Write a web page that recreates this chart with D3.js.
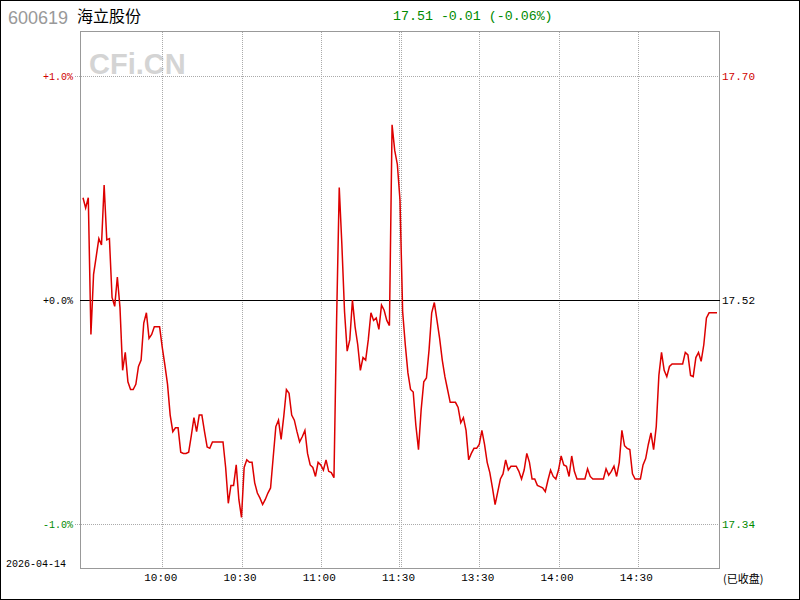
<!DOCTYPE html>
<html><head><meta charset="utf-8">
<script src="https://cdn.jsdelivr.net/npm/d3@7"></script>
<style>body{margin:0;background:#fff}svg{display:block}</style>
</head><body>
<svg id="c" width="800" height="600"></svg>
<script>
const stockCode = "600619";
const stockName = "海立股份";
const headerText = "17.51 -0.01 (-0.06%)";
const dateLabel = "2026-04-14";
const statusLabel = "(已收盘)";
const prevClose = 17.52;
const timeTickIndex = [30, 60, 90, 120, 150, 180, 210];
const timeTickLabels = ["10:00", "10:30", "11:00", "11:30", "13:30", "14:00", "14:30"];
const pctTicks = [1.0, 0.0, -1.0];
const pctLabels = ["+1.0%", "+0.0%", "-1.0%"];
const priceLabels = ["17.70", "17.52", "17.34"];
const tickColors = ["#d00000", "#000000", "#008a00"];
// minute prices 9:30-11:30, 13:01-15:00
const prices = [
17.600,17.592,17.600,17.493,17.540,17.554,17.568,17.563,17.610,17.567,
17.568,17.522,17.515,17.538,17.514,17.465,17.479,17.456,17.450,17.450,
17.454,17.468,17.473,17.502,17.510,17.490,17.493,17.499,17.499,17.499,
17.483,17.469,17.454,17.430,17.417,17.420,17.420,17.401,17.400,17.400,
17.401,17.414,17.428,17.417,17.430,17.430,17.417,17.405,17.404,17.409,
17.409,17.409,17.409,17.409,17.389,17.361,17.375,17.375,17.391,17.364,
17.350,17.389,17.395,17.393,17.393,17.377,17.369,17.365,17.360,17.364,
17.369,17.373,17.397,17.421,17.426,17.411,17.429,17.450,17.447,17.430,
17.426,17.417,17.409,17.413,17.418,17.400,17.391,17.389,17.382,17.393,
17.391,17.387,17.395,17.386,17.385,17.381,17.504,17.608,17.563,17.511,
17.480,17.489,17.520,17.499,17.485,17.465,17.475,17.473,17.489,17.510,
17.504,17.506,17.497,17.516,17.512,17.504,17.500,17.657,17.637,17.626,
17.598,17.511,17.485,17.463,17.450,17.448,17.422,17.403,17.434,17.456,
17.459,17.481,17.510,17.518,17.504,17.490,17.473,17.460,17.450,17.440,
17.440,17.440,17.436,17.424,17.428,17.418,17.395,17.400,17.404,17.404,
17.407,17.418,17.407,17.393,17.385,17.373,17.360,17.370,17.380,17.384,
17.395,17.387,17.390,17.390,17.390,17.386,17.380,17.387,17.400,17.393,
17.380,17.380,17.375,17.374,17.373,17.370,17.379,17.387,17.382,17.380,
17.387,17.398,17.391,17.390,17.382,17.398,17.386,17.380,17.380,17.380,
17.380,17.388,17.382,17.380,17.380,17.380,17.380,17.380,17.388,17.383,
17.386,17.390,17.382,17.393,17.418,17.406,17.404,17.403,17.384,17.380,
17.380,17.380,17.391,17.396,17.407,17.416,17.403,17.421,17.461,17.479,
17.465,17.460,17.468,17.470,17.470,17.470,17.470,17.470,17.479,17.477,
17.461,17.460,17.475,17.479,17.472,17.485,17.506,17.510,17.510,17.510,
17.510
];

const svg = d3.select("#c");
const mono = "'Liberation Mono','DejaVu Sans Mono',monospace";

const x = d3.scaleLinear().domain([0, 240]).range([83, 717]);
const yPct = d3.scaleLinear().domain([-1, 1]).range([524, 76]);
const yPrice = d3.scaleLinear().domain([prevClose * 0.99, prevClose * 1.01]).range([524, 76]);

// outer border
svg.append("rect").attr("x", 0.5).attr("y", 0.5).attr("width", 799).attr("height", 599)
  .attr("fill", "none").attr("stroke", "#000");

// header
svg.append("text").attr("x", 8).attr("y", 24).attr("fill", "#999")
  .style("font-family", "'Liberation Sans',Arial,sans-serif").style("font-size", "18px").text(stockCode);
svg.append("text").attr("x", 77).attr("y", 22).attr("fill", "#000")
  .style("font-family", "'Noto Sans CJK SC',sans-serif").style("font-size", "16px").text(stockName);
svg.append("text").attr("x", 393).attr("y", 20).attr("fill", "#008a00")
  .style("font-family", mono).style("font-size", "13.3px").text(headerText);

// watermark
svg.append("text").attr("x", 89).attr("y", 74).attr("fill", "#d4d4d4")
  .style("font-family", "'Liberation Sans',Arial,sans-serif").style("font-weight", "bold")
  .style("font-size", "29px").text("CFi.CN");

// vertical dotted grid
const gridX = [];
timeTickIndex.forEach(i => {
  if (i === 120) { gridX.push(x(i) - 1); gridX.push(x(i) + 1); } else gridX.push(x(i));
});
svg.append("g").selectAll("line").data(gridX).join("line")
  .attr("x1", d => Math.round(d) + 0.5).attr("x2", d => Math.round(d) + 0.5)
  .attr("y1", 32).attr("y2", 569)
  .attr("stroke", "#aaa").attr("stroke-dasharray", "1,1");

// horizontal dotted grid (+1/-1)
svg.append("g").selectAll("line").data([1, -1]).join("line")
  .attr("x1", 75).attr("x2", 718)
  .attr("y1", d => Math.round(yPct(d)) + 0.5).attr("y2", d => Math.round(yPct(d)) + 0.5)
  .attr("stroke", "#aaa").attr("stroke-dasharray", "1,1");

// frame
svg.append("rect").attr("x", 80.5).attr("y", 31.5).attr("width", 639).attr("height", 537)
  .attr("fill", "none").attr("stroke", "#999");

// zero line
svg.append("line").attr("x1", 80).attr("x2", 720)
  .attr("y1", yPct(0) + 0.5).attr("y2", yPct(0) + 0.5).attr("stroke", "#000").attr("stroke-width", 1.2);

// price line
const line = d3.line().x((d, i) => x(i)).y(d => yPrice(d));
svg.append("path").datum(prices).attr("d", line)
  .attr("fill", "none").attr("stroke", "#dd0000").attr("stroke-width", 1.5).attr("stroke-linejoin", "miter");

// left axis
const leftAxis = d3.axisLeft(yPct).tickValues(pctTicks).tickSize(0).tickPadding(0)
  .tickFormat((d, i) => pctLabels[i]);
const gl = svg.append("g").attr("transform", "translate(73,0)").call(leftAxis);
gl.select(".domain").remove();
gl.selectAll("text").style("font-family", mono).style("font-size", "10px")
  .attr("fill", (d, i) => tickColors[i]).attr("dy", "0.32em");

// right axis
const rightAxis = d3.axisRight(yPrice).tickValues(pctTicks.map(p => prevClose * (1 + p / 100))).tickSize(0).tickPadding(0)
  .tickFormat((d, i) => priceLabels[i]);
const gr = svg.append("g").attr("transform", "translate(722,0)").call(rightAxis);
gr.select(".domain").remove();
gr.selectAll("text").style("font-family", mono).style("font-size", "11px")
  .attr("fill", (d, i) => tickColors[i]).attr("dy", "0.32em");

// bottom axis
const bottomAxis = d3.axisBottom(x).tickValues(timeTickIndex).tickSize(0).tickPadding(0)
  .tickFormat((d, i) => timeTickLabels[i]);
const gb = svg.append("g").attr("transform", "translate(-2,573)").call(bottomAxis);
gb.select(".domain").remove();
gb.selectAll("text").style("font-family", mono).style("font-size", "11px").attr("fill", "#000").attr("dy", "0.71em");

// date & status
svg.append("text").attr("x", 6).attr("y", 567).attr("fill", "#000")
  .style("font-family", mono).style("font-size", "10px").text(dateLabel);
svg.append("text").attr("x", 723).attr("y", 583).attr("fill", "#000")
  .style("font-family", "'Noto Sans CJK SC',sans-serif").style("font-size", "11px").text(statusLabel);
</script>
</body></html>
